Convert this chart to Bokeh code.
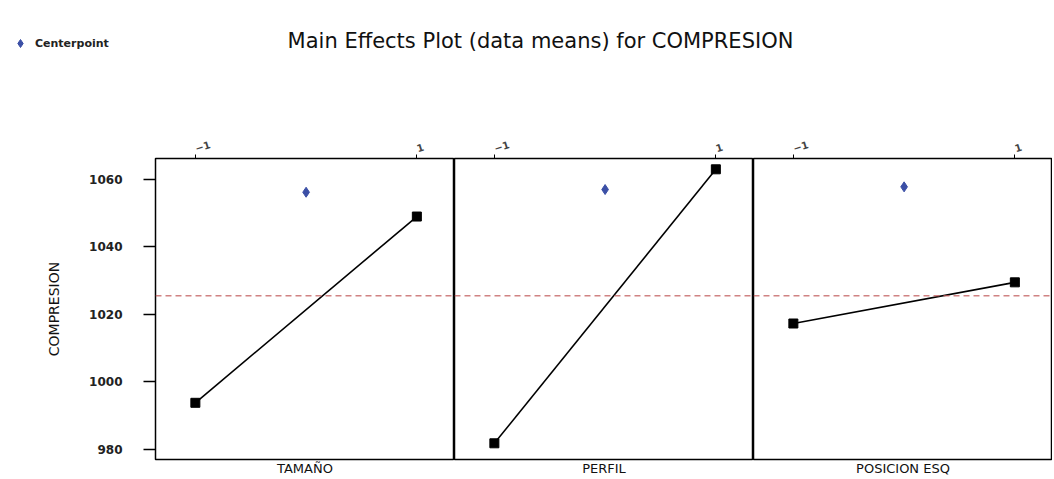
from bokeh.plotting import figure
from bokeh.layouts import column, row
from bokeh.models import (LinearAxis, FixedTicker, Span, Label, Legend, LegendItem, Range1d)
from bokeh.embed import file_html
from bokeh.resources import INLINE

# ---- data ----
factors = ["TAMAÑO", "PERFIL", "POSICION ESQ"]
levels = [-1, 1]
tamano_means = [993.8, 1049.0]
perfil_means = [981.8, 1063.0]
posicion_means = [1017.3, 1029.5]
center_level = [0]
centerpoints = [1056.2, 1057.0, 1057.8]
overall_mean = 1025.5
y_ticks = [980, 1000, 1020, 1040, 1060]

title_text = "Main Effects Plot (data means) for COMPRESION"
legend_text = "Centerpoint"
y_label = "COMPRESION"

series = [tamano_means, perfil_means, posicion_means]

FONT = "DejaVu Sans"
BLUE = "#3b4fa6"

# ---- header (title + legend) ----
HDR_H = 100
hdr = figure(width=1052, height=HDR_H, toolbar_location=None, output_backend="svg",
             x_range=(0, 1), y_range=(0, 1), min_border=0)
hdr.axis.visible = False
hdr.grid.visible = False
hdr.outline_line_color = None
hdr.add_layout(Label(x=540, y=HDR_H - 40, x_units="screen", y_units="screen",
                     text=title_text, text_align="center", text_baseline="middle",
                     text_font=FONT, text_font_size="21px", text_color="#111111"))
# legend proxy glyph (kept outside the header's visible range)
r_leg = hdr.scatter(x=[-5], y=[-5], marker="diamond", size=10, color=BLUE)
leg = Legend(items=[LegendItem(label=legend_text, renderers=[r_leg])],
             location=(10, 47), padding=0, margin=0, spacing=0,
             glyph_width=20, glyph_height=20, label_height=12, label_standoff=5,
             label_text_font=FONT, label_text_font_size="11px", label_text_font_style="bold",
             label_text_color="#222222",
             border_line_color=None, background_fill_alpha=0)
hdr.add_layout(leg)

# ---- panels ----
yr = Range1d(977.0, 1066.2)
FRAME_W = 299
TOP = 58
BOT = 19
PANEL_H = TOP + 301 + BOT

panels = []
for i, (name, vals) in enumerate(zip(factors, series)):
    first = i == 0
    w = FRAME_W + (155 if first else 0)
    p = figure(width=w, height=PANEL_H, toolbar_location=None, output_backend="svg",
               x_range=(-1.36, 1.34), y_range=yr,
               x_axis_location="above", y_axis_location="left" if first else None,
               min_border_left=155 if first else 0, min_border_right=0,
               min_border_top=TOP, min_border_bottom=BOT)
    p.grid.visible = False
    p.outline_line_color = "black"
    p.outline_line_width = 1.5
    p.background_fill_color = "white"

    # top axis with level ticks
    ax = p.xaxis[0]
    ax.ticker = FixedTicker(ticks=levels)
    ax.axis_line_color = None
    ax.major_tick_out = 4
    ax.major_tick_in = 0
    ax.minor_tick_line_color = None
    ax.major_tick_line_color = "black"
    ax.major_label_standoff = 6
    ax.major_label_text_font = FONT
    ax.major_label_text_font_size = "10px"
    ax.major_label_text_font_style = "bold"
    ax.major_label_orientation = 0.3

    # bottom axis with the factor name
    bx = LinearAxis(axis_label=name, ticker=FixedTicker(ticks=[]),
                    axis_line_color=None, major_tick_line_color=None,
                    minor_tick_line_color=None, axis_label_standoff=1,
                    axis_label_text_font=FONT, axis_label_text_font_size="13px",
                    axis_label_text_font_style="normal", axis_label_text_color="#111111")
    p.add_layout(bx, "below")

    if first:
        yax = p.yaxis[0]
        yax.ticker = FixedTicker(ticks=y_ticks)
        yax.axis_line_color = None
        yax.major_tick_out = 12
        yax.major_tick_in = 0
        yax.major_tick_line_width = 1.5
        yax.minor_tick_line_color = None
        yax.major_label_standoff = 21
        yax.major_label_text_font = FONT
        yax.major_label_text_font_size = "12px"
        yax.major_label_text_font_style = "bold"
        yax.major_label_text_color = "#222222"
        yax.axis_label = y_label
        yax.axis_label_standoff = 24
        yax.axis_label_text_font = FONT
        yax.axis_label_text_font_size = "14px"
        yax.axis_label_text_font_style = "normal"
        yax.axis_label_text_color = "#111111"

    p.add_layout(Span(location=overall_mean, dimension="width", line_color="#c05a5a",
                      line_dash="6 4", line_width=1.5, line_alpha=0.75))
    p.line(levels, vals, line_color="black", line_width=1.6)
    p.scatter(levels, vals, marker="square", size=9, color="black")
    p.scatter(center_level, [centerpoints[i]], marker="diamond", size=10, color=BLUE)
    panels.append(p)

layout = column(hdr, row(*panels, spacing=0), spacing=0)
open("out.html", "w").write(file_html(layout, INLINE))
